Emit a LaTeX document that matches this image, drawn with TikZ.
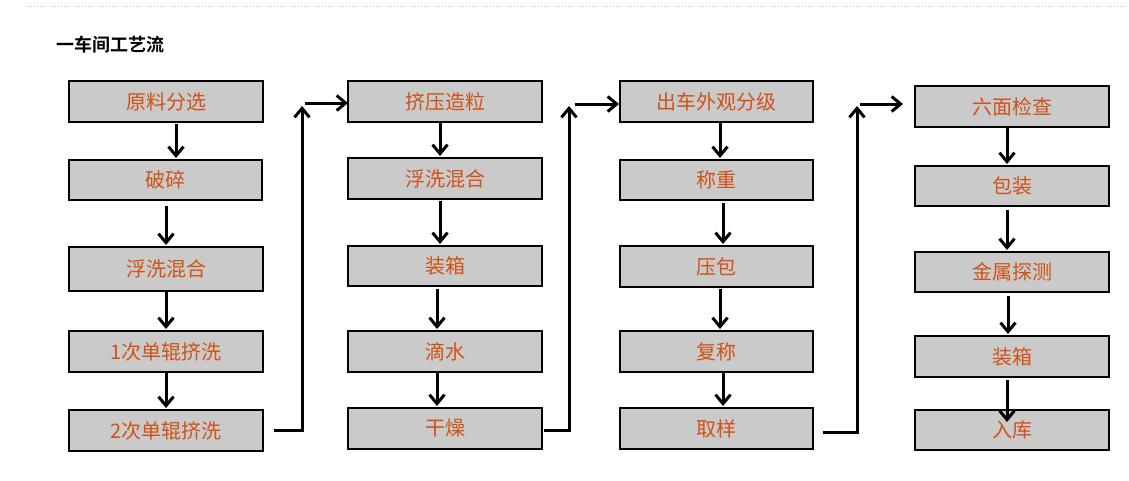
\documentclass[tikz,border=0pt]{standalone}
\usepackage{fontspec}
\newfontfamily\cjk{Noto Sans CJK SC}
\newfontfamily\cjkb{Noto Sans CJK SC Bold}
\usetikzlibrary{arrows.meta}
\definecolor{boxgrey}{RGB}{201,202,201}
\definecolor{txtorange}{RGB}{208,82,22}
\begin{document}
\begin{tikzpicture}[x=1pt,y=-1pt,
  procbox/.style={draw=black,line width=1.3pt,fill=boxgrey,inner sep=0pt,
    font=\cjk\fontsize{20}{22}\selectfont,text=txtorange},
  flow/.style={line width=3pt,-{Straight Barb[length=9pt,width=15pt]}},
  joinline/.style={line width=3pt,-{Straight Barb[length=9pt,width=15pt]}}]
\useasboundingbox (0,0) rectangle (1129,480);
\draw[gray!50,line width=1pt,dotted] (25,6) -- (1129,6);
\node[anchor=west,font=\cjkb\fontsize{18}{20}\selectfont] (title) at (53,45) {一车间工艺流};
\newcommand{\pbox}[6]{\node[procbox,minimum width={#4-#2},minimum height={#5-#3}] (#1) at ({(#2+#4)/2},{(#3+#5)/2}) {#6};}
% column 1
\pbox{a1}{69}{81}{263}{122}{原料分选}
\pbox{a2}{69}{160}{262}{200}{破碎}
\pbox{a3}{69}{247}{263}{291}{浮洗混合}
\pbox{a4}{69}{331}{263}{372}{1次单辊挤洗}
\pbox{a5}{69}{410}{263}{451}{2次单辊挤洗}
% column 2
\pbox{b1}{348}{81}{542}{122}{挤压造粒}
\pbox{b2}{348}{158}{542}{199}{浮洗混合}
\pbox{b3}{348}{246}{542}{286}{装箱}
\pbox{b4}{348}{331}{542}{372}{滴水}
\pbox{b5}{348}{408}{542}{449}{干燥}
% column 3
\pbox{c1}{620}{81}{813}{122}{出车外观分级}
\pbox{c2}{620}{160}{813}{200}{称重}
\pbox{c3}{620}{246}{813}{287}{压包}
\pbox{c4}{620}{331}{813}{372}{复称}
\pbox{c5}{620}{408}{813}{449}{取样}
% column 4
\pbox{d1}{915}{86}{1109}{127}{六面检查}
\pbox{d2}{915}{166}{1109}{206}{包装}
\pbox{d3}{915}{252}{1109}{292}{金属探测}
\pbox{d4}{915}{336}{1109}{377}{装箱}
\pbox{d5}{915}{410}{1109}{450}{入库}
% vertical arrows
\draw[flow] (176,124) -- (176,158);
\draw[flow] (166,206) -- (166,245);
\draw[flow] (166,291) -- (166,329);
\draw[flow] (166,372) -- (166,408);
\draw[flow] (440,122) -- (440,156);
\draw[flow] (440,201) -- (440,244);
\draw[flow] (437,289) -- (437,329);
\draw[flow] (437,372) -- (437,406);
\draw[flow] (720,122) -- (720,158);
\draw[flow] (723,203) -- (723,244);
\draw[flow] (720,289) -- (720,329);
\draw[flow] (723,372) -- (723,406);
\draw[flow] (1007,127) -- (1007,164);
\draw[flow] (1007,210) -- (1007,250);
\draw[flow] (1008,296) -- (1008,334);
\draw[flow] (1007,380) -- (1007,422);
% column joins
\coordinate (j1a) at (274,430); \coordinate (j1b) at (302,430); \coordinate (j1c) at (302,106);
\draw[joinline] (j1a) -- (j1b) -- (j1c);
\coordinate (h1) at (305,103); \coordinate (h1e) at (348,103);
\draw[flow] (h1) -- (h1e);
\coordinate (j2a) at (544,430); \coordinate (j2b) at (569,430); \coordinate (j2c) at (569,106);
\draw[joinline] (j2a) -- (j2b) -- (j2c);
\coordinate (h2) at (575,104); \coordinate (h2e) at (619,104);
\draw[flow] (h2) -- (h2e);
\coordinate (j3a) at (823,432); \coordinate (j3b) at (857,432); \coordinate (j3c) at (857,106);
\draw[joinline] (j3a) -- (j3b) -- (j3c);
\coordinate (h3) at (860,104); \coordinate (h3e) at (903,104);
\draw[flow] (h3) -- (h3e);
\end{tikzpicture}
\end{document}
